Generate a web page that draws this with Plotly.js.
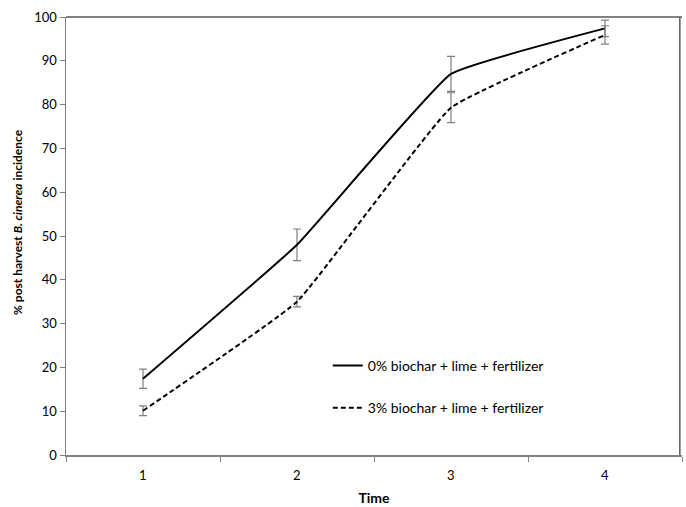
<!DOCTYPE html>
<html>
<head>
<meta charset="utf-8">
<script src="https://cdn.plot.ly/plotly-3.0.1.min.js"></script>
<style>html,body{margin:0;padding:0;background:#fff;}#chart{width:686px;height:507px;}</style>
</head>
<body>
<div id="chart"></div>
<script>
const times = ["1", "2", "3", "4"];
const series0Name = "0% biochar + lime + fertilizer";
const series0 = [17.4, 48.0, 87.0, 97.4];
const series0Err = [2.2, 3.6, 4.0, 1.9];
const series3Name = "3% biochar + lime + fertilizer";
const series3 = [10.1, 35.0, 79.3, 95.9];
const series3Err = [1.1, 1.2, 3.4, 2.1];
const yTicks = [0, 10, 20, 30, 40, 50, 60, 70, 80, 90, 100];

const FONT = "Lato, 'Open Sans', sans-serif";

const traces = [
  {
    x: times, y: series0, name: series0Name, type: "scatter", mode: "lines",
    line: {color: "#000", width: 2, shape: "spline", smoothing: 0.3},
    error_y: {type: "data", array: series0Err, visible: true, color: "#7f7f7f", thickness: 1.2, width: 4},
    legendgroup: "a"
  },
  {
    x: times, y: series3, name: series3Name, type: "scatter", mode: "lines",
    line: {color: "#000", width: 2, dash: "5px,3px", shape: "spline", smoothing: 0.3},
    error_y: {type: "data", array: series3Err, visible: true, color: "#7f7f7f", thickness: 1.2, width: 4},
    legendgroup: "b"
  }
];

const layout = {
  width: 686, height: 507,
  margin: {l: 66, r: 4, t: 17, b: 52},
  paper_bgcolor: "#fff", plot_bgcolor: "#fff",
  font: {family: FONT, size: 13, color: "#000"},
  showlegend: true,
  legend: {
    x: 0.425, y: 0.24, xanchor: "left", yanchor: "top",
    bgcolor: "rgba(0,0,0,0)", font: {family: FONT, size: 14, color: "#000"},
    tracegroupgap: 21, traceorder: "grouped"
  },
  xaxis: {
    type: "category", range: [-0.5, 3.5],
    showline: true, linecolor: "#808080", linewidth: 1.5,
    ticks: "outside", ticklen: 5, tickcolor: "#808080",
    tickmode: "array", tickvals: [-0.5, 0.5, 1.5, 2.5, 3.5], ticktext: ["", "", "", "", ""],
    showgrid: false, zeroline: false,
    title: {text: "<b>Time</b>", font: {family: FONT, size: 14}, standoff: 30}
  },
  yaxis: {
    range: [0, 100], tickvals: yTicks,
    showline: true, linecolor: "#808080", linewidth: 1.5,
    ticks: "outside", ticklen: 5, tickcolor: "#808080",
    showgrid: false, zeroline: false,
    tickfont: {family: FONT, size: 13},
    title: {text: ""}
  },
  annotations: times.map((t, i) => ({
    x: i, y: 0, xref: "x", yref: "y", text: t, showarrow: false,
    yshift: -20, font: {family: FONT, size: 13, color: "#000"}
  })).concat([{
    x: -0.078, y: 0.532, xref: "paper", yref: "paper", xanchor: "center", yanchor: "middle",
    text: "<b>% post harvest <i>B. cinerea</i> incidence</b>", textangle: -90, showarrow: false,
    font: {family: FONT, size: 12, color: "#000"}
  }]),
  shapes: [
    {type: "line", xref: "paper", yref: "paper", x0: 0, x1: 1, y0: 1, y1: 1, line: {color: "#595959", width: 1.5}},
    {type: "line", xref: "paper", yref: "paper", x0: 0.9965, x1: 0.9965, y0: 0, y1: 1, line: {color: "#595959", width: 1.5}}
  ]
};

Plotly.newPlot("chart", traces, layout, {displayModeBar: false, staticPlot: true});
</script>
</body>
</html>
